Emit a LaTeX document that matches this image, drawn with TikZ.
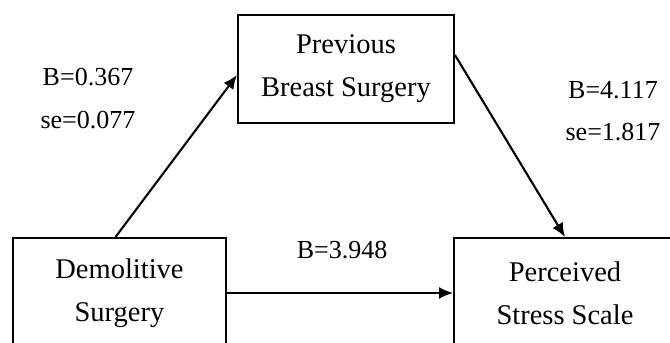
\documentclass[tikz,border=0pt]{standalone}
\usepackage{fontspec}
\setmainfont{Liberation Serif}
\usepackage{tikz}
\usetikzlibrary{arrows.meta}

\begin{document}
\begin{tikzpicture}[x=1pt, y=-1pt,
                    box/.style={draw, line width=1.9pt, align=center,
                                inner sep=0pt,
                                font=\fontsize{28.5pt}{43pt}\selectfont},
                    coef/.style={anchor=base, inner sep=0pt,
                                 font=\fontsize{26pt}{28pt}\selectfont},
                    path/.style={-{Latex[length=14pt,width=12pt]}, line width=2.1pt}]
    \useasboundingbox (0,0) rectangle (670,343);
    \clip (0,0) rectangle (670,343);

    % boxes
    \node[box, minimum width=216pt, minimum height=108pt] (previous) at (346,69)
        {Previous\\Breast Surgery};
    \node[box, minimum width=213pt, minimum height=110pt] (demolitive) at (119.5,293)
        {Demolitive\\Surgery};
    \node[box, minimum width=222pt, minimum height=110pt] (perceived) at (565,293)
        {Perceived\\Stress Scale};

    % coefficients
    \node[coef] (aB)  at (88,85)   {B=0.367};
    \node[coef] (aSe) at (88,128)  {se=0.077};
    \node[coef] (bB)  at (613,98)  {B=4.117};
    \node[coef] (bSe) at (613,140) {se=1.817};
    \node[coef] (cB)  at (342,258) {B=3.948};

    % paths
    \draw[path] ([xshift=-4pt]demolitive.north) -- ([yshift=-6pt]previous.west);
    \draw[path] ([yshift=14pt]previous.east) -- (perceived.north);
    \draw[path] (demolitive.east) -- (perceived.west);
\end{tikzpicture}
\end{document}
